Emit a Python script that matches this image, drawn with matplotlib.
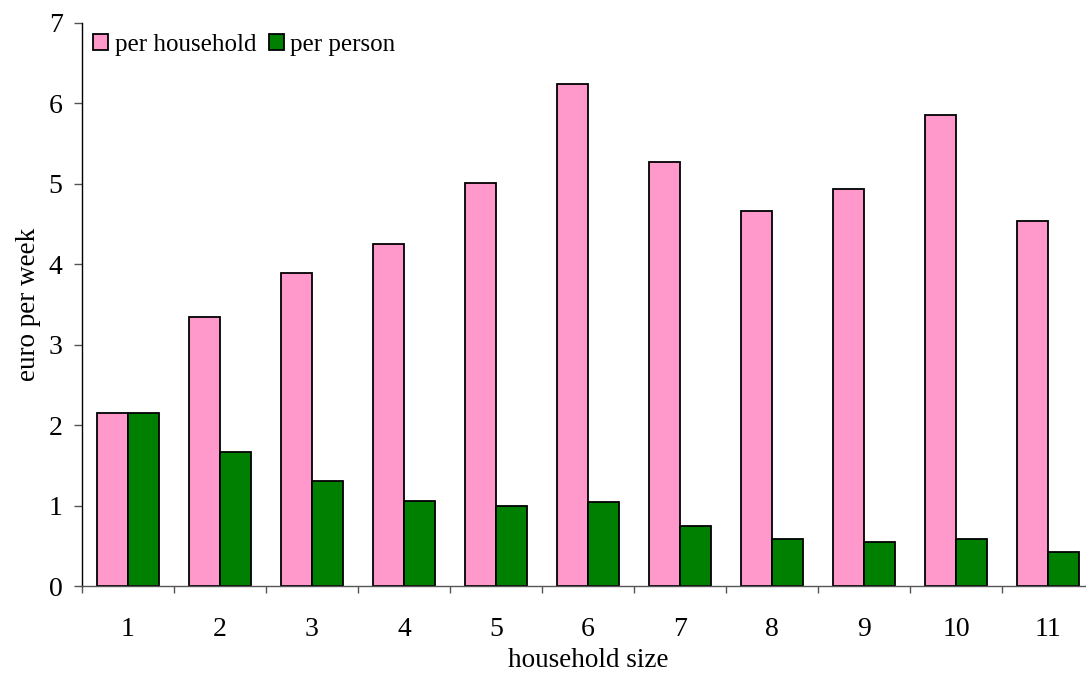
import matplotlib
matplotlib.use("Agg")
import matplotlib.pyplot as plt
import numpy as np

categories = ["1", "2", "3", "4", "5", "6", "7", "8", "9", "10", "11"]
per_household = [2.15, 3.34, 3.89, 4.25, 5.01, 6.24, 5.27, 4.66, 4.94, 5.86, 4.54]
per_person = [2.15, 1.67, 1.30, 1.06, 1.00, 1.04, 0.75, 0.58, 0.55, 0.59, 0.42]

plt.rcParams['font.family'] = ['Liberation Serif', 'DejaVu Serif']

fig = plt.figure(figsize=(10.86, 6.73), dpi=100)
ax = fig.add_axes([82/1086, 1-586/673, 1012/1086, 563/673])

x = np.arange(len(categories))
w = 1/3
ax.bar(x - w/2, per_household, width=w, color="#FF99CC", edgecolor="black", linewidth=1.3, label="per household")
ax.bar(x + w/2, per_person, width=w, color="#008000", edgecolor="black", linewidth=1.3, label="per person")

ax.set_xlim(-0.5, len(categories) - 0.5)
ax.set_ylim(0, 7)
ax.set_yticks(range(0, 8))
ax.set_xticks(x)
ax.set_xticklabels(categories)
ax.set_xticks(np.arange(-0.5, len(categories) + 0.5, 1), minor=True)
ax.tick_params(axis='x', which='major', length=0, pad=22, labelsize=20)
ax.tick_params(axis='x', which='minor', length=5, width=1, color='#555555', direction='out')
ax.tick_params(axis='y', length=6, width=1, color='#555555', labelsize=20, pad=8)

for s in ['top', 'right']:
    ax.spines[s].set_visible(False)
ax.spines['left'].set_color('black')
ax.spines['bottom'].set_color('#555555')
ax.spines['left'].set_linewidth(1)
ax.spines['bottom'].set_linewidth(1)

ax.set_xlabel("household size", fontsize=19.5)
ax.xaxis.label.set_va('top')
ax.xaxis.set_label_coords(0.5, (586 - 648) / 563)
ax.set_ylabel("euro per week", fontsize=19.5)
ax.yaxis.label.set_va('center')
ax.yaxis.set_label_coords((29 - 82) / 1012, 0.5)

ax.legend(loc='upper left', bbox_to_anchor=(6/1012, 1 - 6/563), ncol=2, frameon=False,
          fontsize=18, handlelength=0.6, handleheight=0.6, handletextpad=0.28,
          columnspacing=0.48, borderaxespad=0.0, borderpad=0.2)

fig.savefig("out.png", dpi=100)
